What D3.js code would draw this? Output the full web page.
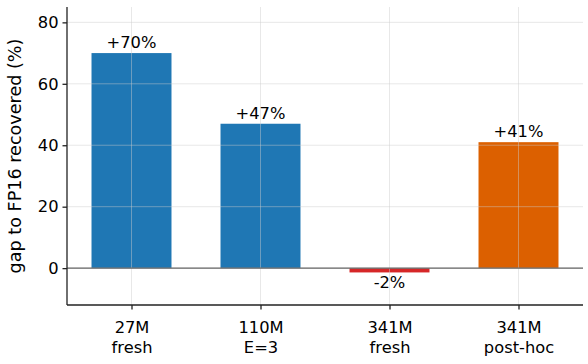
<!DOCTYPE html>
<html>
<head>
<meta charset="utf-8">
<script src="https://cdn.jsdelivr.net/npm/d3@7"></script>
<style>
  body { margin: 0; background: #fff; }
  text { font-family: "DejaVu Sans", sans-serif; fill: #000; }
</style>
</head>
<body>
<div id="chart"></div>
<script>
// data
var models = ["27M", "110M", "341M", "341M"];
var variants = ["fresh", "E=3", "fresh", "post-hoc"];
var recovered = [70, 47, -1.4, 41];
var labels = ["+70%", "+47%", "-2%", "+41%"];
var barColors = ["#1f77b4", "#1f77b4", "#d62728", "#dc6000"];
var yTicks = [0, 20, 40, 60, 80];

var w = 588, h = 364;
var margin = {left: 67, right: 5, top: 7, bottom: 59};
var fs = "16.3px";

var svg = d3.select("#chart").append("svg")
            .attr("width", w)
            .attr("height", h);

var x = d3.scaleLinear()
          .domain([-0.5, 3.5])
          .range([margin.left, w - margin.right]);

var y = d3.scaleLinear()
          .domain([-12, 85])
          .range([h - margin.bottom, margin.top]);

var barW = 0.62;

// bars
svg.selectAll("rect.bar")
   .data(recovered)
   .enter().append("rect")
   .attr("class", "bar")
   .attr("x", function(d, i){ return x(i - barW/2); })
   .attr("width", function(){ return x(barW) - x(0); })
   .attr("y", function(d){ return y(Math.max(d, 0)); })
   .attr("height", function(d){ return Math.abs(y(d) - y(0)); })
   .attr("fill", function(d, i){ return barColors[i]; });

// grid on top, faint
var grid = svg.append("g").attr("stroke", "#ccc").attr("stroke-opacity", 0.45).attr("stroke-width", 1);
grid.selectAll("line.gy")
    .data(yTicks)
    .enter().append("line")
    .attr("x1", margin.left).attr("x2", w - margin.right)
    .attr("y1", function(d){ return y(d); })
    .attr("y2", function(d){ return y(d); });
grid.selectAll("line.gx")
    .data(d3.range(models.length))
    .enter().append("line")
    .attr("x1", function(d){ return x(d); })
    .attr("x2", function(d){ return x(d); })
    .attr("y1", margin.top).attr("y2", h - margin.bottom);

// zero line
svg.append("line")
   .attr("x1", margin.left).attr("x2", w - margin.right)
   .attr("y1", y(0)).attr("y2", y(0))
   .attr("stroke", "#666").attr("stroke-width", 1.2);

// value labels
svg.selectAll("text.val")
   .data(recovered)
   .enter().append("text")
   .attr("class", "val")
   .attr("x", function(d, i){ return x(i); })
   .attr("y", function(d){ return d >= 0 ? y(d) - 5 : y(d) + 16; })
   .attr("text-anchor", "middle")
   .style("font-size", fs)
   .text(function(d, i){ return labels[i]; });

// axes
var yAxis = svg.append("g")
               .attr("transform", "translate(" + margin.left + ",0)")
               .call(d3.axisLeft(y).tickValues(yTicks).tickSize(4.5).tickPadding(4));
var xAxis = svg.append("g")
               .attr("transform", "translate(0," + (h - margin.bottom) + ")")
               .call(d3.axisBottom(x).tickValues(d3.range(models.length)).tickSize(4.5).tickFormat(""));

[yAxis, xAxis].forEach(function(a){
  a.select(".domain").attr("stroke", "#222").attr("stroke-width", 1.3);
  a.selectAll(".tick line").attr("stroke", "#222").attr("stroke-width", 1.3);
});
yAxis.select(".domain").attr("d", "M0," + margin.top + "V" + (h - margin.bottom));
xAxis.select(".domain").attr("d", "M" + margin.left + ",0H" + (w - margin.right));
yAxis.selectAll(".tick text").style("font-size", fs).style("font-family", "DejaVu Sans").attr("fill", "#000");

xAxis.selectAll(".tick").each(function(d){
  var t = d3.select(this).append("text")
            .attr("text-anchor", "middle")
            .style("font-size", fs)
            .attr("fill", "#000");
  t.append("tspan").attr("x", 0).attr("y", 27.5).text(models[d]);
  t.append("tspan").attr("x", 0).attr("y", 47.5).text(variants[d]);
});

// y label
svg.append("text")
   .attr("transform", "translate(20.5," + ((margin.top + h - margin.bottom) / 2) + ") rotate(-90)")
   .attr("text-anchor", "middle")
   .style("font-size", "17.6px")
   .text("gap to FP16 recovered (%)");
</script>
</body>
</html>
